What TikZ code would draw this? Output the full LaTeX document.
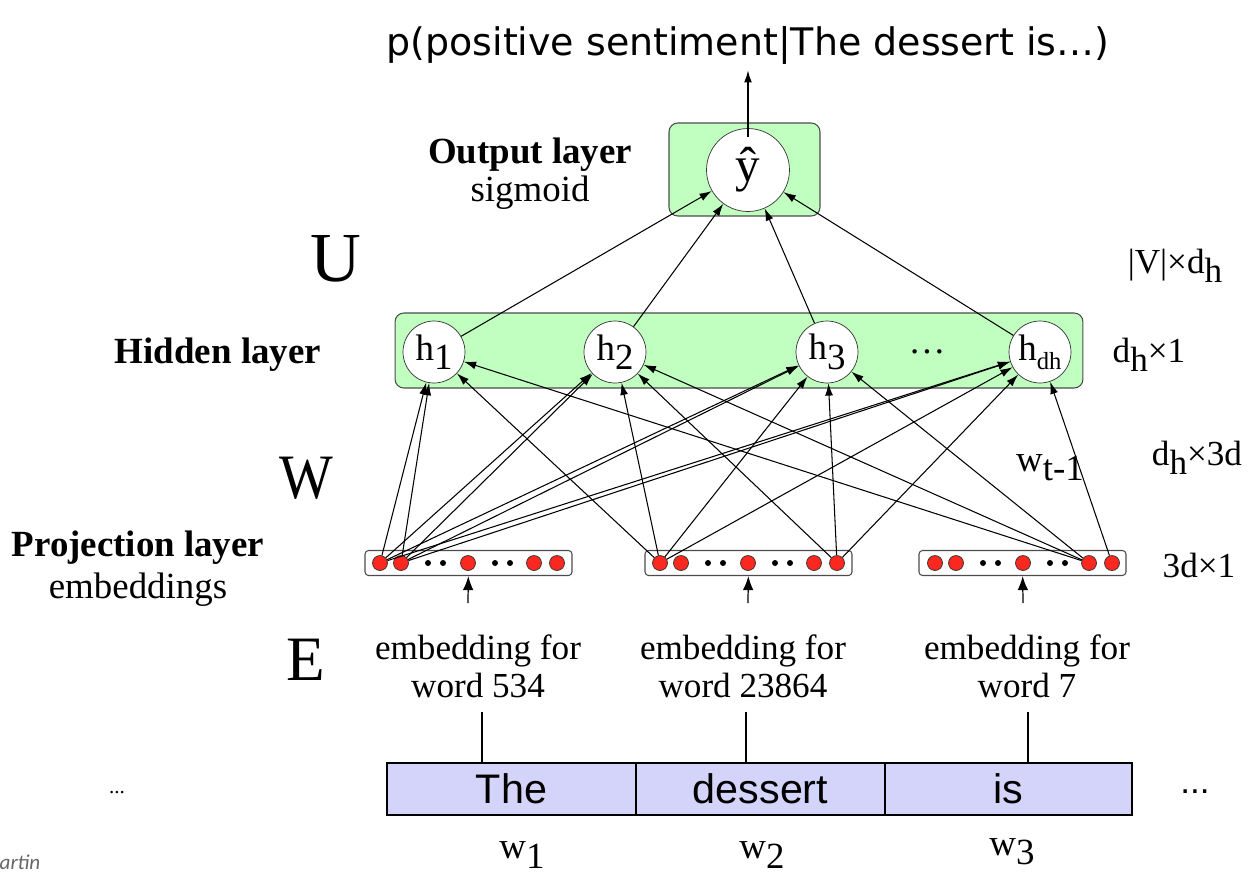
\documentclass[tikz,border=0pt]{standalone}
\usepackage{fontspec}
\setmainfont{Liberation Serif}
\newfontfamily\titlefont{DejaVu Sans}
\newfontfamily\wordfont{Liberation Sans}
\newfontfamily\notefont{Carlito}
\usepackage{xcolor}
\usetikzlibrary{arrows.meta}
\definecolor{hgreen}{RGB}{192,255,192}
\definecolor{dotred}{RGB}{250,40,30}
\definecolor{wordblue}{RGB}{212,212,250}
\newcommand{\lowsub}[1]{\raisebox{-0.55ex}{#1}}
\newcommand{\fsz}[1]{\fontsize{#1}{#1}\selectfont}

\begin{document}
\begin{tikzpicture}[
  x=0.02cm,y=-0.02cm,
  lbl/.style={font=\fsz{21}},
  biglbl/.style={font=\fsz{36}},
  dimlbl/.style={font=\fsz{20}},
  layerbox/.style={draw=black!70,fill=hgreen,rounded corners=5pt,line width=0.6pt},
  hnode/.style={circle,draw=black!80,fill=white,minimum size=1.24cm,inner sep=0pt,font=\fsz{21}},
  projbox/.style={draw=black!70,fill=white,rounded corners=2pt,minimum width=4.14cm,minimum height=0.5cm,line width=0.6pt},
  rdot/.style={circle,draw=black!80,fill=dotred,minimum size=0.3cm,inner sep=0pt,line width=0.4pt},
  bdot/.style={circle,fill=black,minimum size=0.12cm,inner sep=0pt},
  wcell/.style={draw,line width=1.4pt,fill=wordblue,minimum width=4.98cm,minimum height=1.04cm,inner sep=0pt,font=\wordfont\fsz{23.5}},
  emb/.style={align=center,font=\fontsize{20}{21.5}\selectfont},
  arr/.style={-{Latex[length=7pt,width=4.5pt]},line width=0.6pt},
  embarr/.style={-{Latex[length=8pt,width=6pt]},line width=0.7pt}
]
\useasboundingbox (0,0) rectangle (1249,877);

% output
\node[font=\titlefont\fsz{21.6}] (title) at (748,45) {p(positive sentiment|The dessert is…)};
\node[layerbox,minimum width=3.02cm,minimum height=1.86cm] (outbox) at (744.5,169.5) {};
\node[hnode,minimum size=1.66cm,font=\fsz{28}] (yhat) at (748,170) {ŷ};
\node[lbl,font=\bfseries\fsz{21}] (outlbl) at (530,155) {Output layer};
\node[lbl] (sigm) at (530,193) {sigmoid};
\node[biglbl,font=\fsz{40}] (U) at (336,259) {U};
\node[dimlbl] (Udim) at (1175,266) {|V|×d\lowsub{h}};

% hidden
\node[layerbox,minimum width=13.76cm,minimum height=1.5cm] (hidbox) at (739,350.5) {};
\node[hnode] (h1) at (434,352) {h\lowsub{1}};
\node[hnode] (h2) at (615,352) {h\lowsub{2}};
\node[hnode] (h3) at (827,352) {h\lowsub{3}};
\node[font=\fsz{21}] (hdots) at (927,352) {\dots};
\node[hnode] (hd) at (1040,352) {h\lowsub{\fsz{14}dh}};
\node[lbl,font=\bfseries\fsz{21}] (hidlbl) at (218,355) {Hidden layer};
\node[dimlbl] (hdim) at (1149,355) {d\lowsub{h}×1};

\node[biglbl] (W) at (306,478) {\scalebox{0.9}[1]{W}};
\node[lbl] (wt) at (1050,468) {w\lowsub{t-1}};
\node[dimlbl] (Wdim) at (1197,458) {d\lowsub{h}×3d};

% projection
\node[projbox] (proj1) at (468.5,563) {};
\node[projbox] (proj2) at (748.5,563) {};
\node[projbox] (proj3) at (1022.5,563) {};
\foreach \bx/\nm in {365/a,645/b,920/c} {
  \foreach \dx [count=\i] in {15,36,103,169,192}
    \node[rdot] (\nm\i) at (\bx+\dx,563) {};
  \foreach \dx [count=\i] in {63,78,130,145}
    \node[bdot] (\nm k\i) at (\bx+\dx,563) {};
}
\node[lbl,font=\bfseries\fsz{21}] (projlbl) at (138,548) {Projection layer};
\node[lbl] (emblbl) at (138,590) {embeddings};
\node[dimlbl] (pdim) at (1199,565) {3d×1};
\node[biglbl] (E) at (306,660) {E};

% embeddings and words
\node[emb] (emb1) at (478,666) {embedding for\\word 534};
\node[emb] (emb2) at (743,666) {embedding for\\word 23864};
\node[emb] (emb3) at (1027,666) {embedding for\\word 7};
\coordinate (e1top) at (468,603);
\coordinate (e2top) at (748,603);
\coordinate (e3top) at (1023,603);
\coordinate (e1bot) at (482,712);
\coordinate (e2bot) at (746,712);
\coordinate (e3bot) at (1028,712);

\node[wcell] (wThe) at (511.5,789) {The};
\node[wcell] (wdes) at (760.5,789) {dessert};
\node[wcell,minimum width=4.94cm] (wis) at (1008.5,789) {is};
\node[font=\fsz{12}] (ldots) at (117,793) {...};
\node[font=\wordfont\fsz{20}] (rdots) at (1195,792) {...};
\node[lbl] (w1) at (522,855) {w\lowsub{1}};
\node[lbl] (w2) at (762,855) {w\lowsub{2}};
\node[lbl] (w3) at (1012,852) {w\lowsub{3}};
\node[font=\notefont\itshape\fsz{12},text=black!60] (src) at (20,862) {artin};

% connectors
\draw[arr,line width=0.9pt] (yhat.center) ++(0,-33) -- (title);
\foreach \h in {h1,h2,h3,hd}
  \draw[arr] (\h) -- (yhat);
\foreach \h in {h1,h2,h3,hd} {
  \draw[arr] (a1) -- (\h);
  \draw[arr] (a2) -- (\h);
  \draw[arr] (b1) -- (\h);
}
\foreach \h in {h2,h3,hd}
  \draw[arr] (b5) -- (\h);
\foreach \h in {h1,h2,h3}
  \draw[arr] (c4) -- (\h);
\draw[arr] (c5) -- (hd);

\draw[embarr] (e1top) -- (proj1);
\draw[embarr] (e2top) -- (proj2);
\draw[embarr] (e3top) -- (proj3);
\draw[line width=0.6pt] (e1bot) -- (e1bot |- wThe.north);
\draw[line width=0.6pt] (e2bot) -- (e2bot |- wdes.north);
\draw[line width=0.6pt] (e3bot) -- (e3bot |- wis.north);
\end{tikzpicture}
\end{document}
